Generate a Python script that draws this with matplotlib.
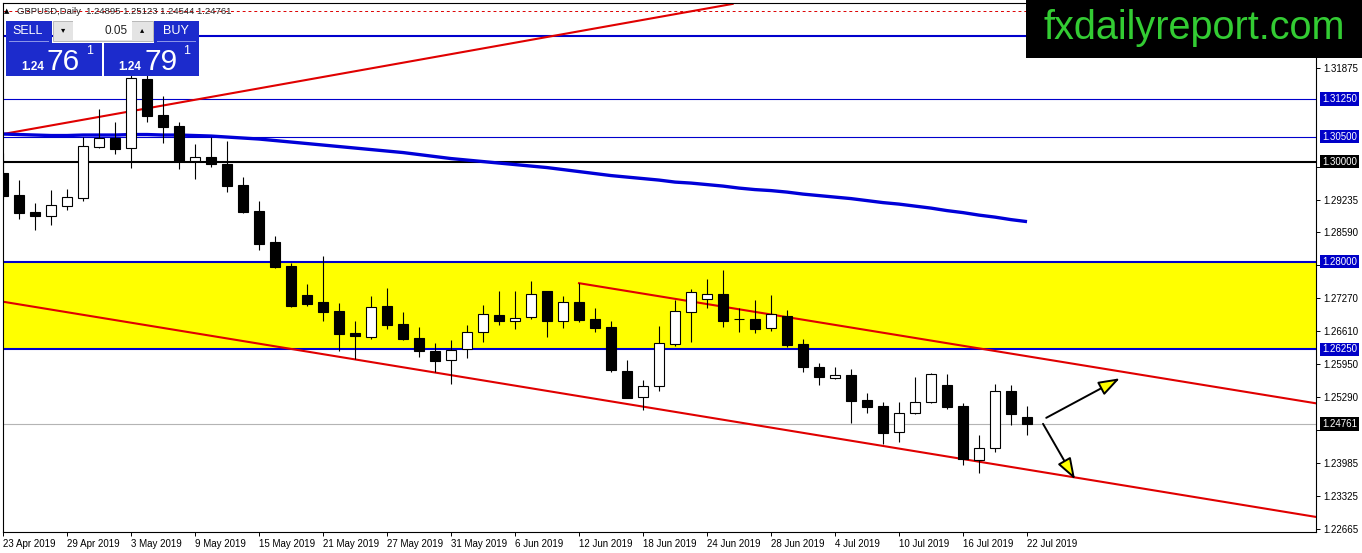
import matplotlib
matplotlib.use('Agg')
import matplotlib.pyplot as plt
from matplotlib.patches import Rectangle
import numpy as np

plt.rcParams['font.family'] = ['Liberation Sans', 'DejaVu Sans']

# GBPUSD daily candles, 23 Apr 2019 .. 22 Jul 2019 (bar index 0..64)
opens = [1.2977, 1.2933, 1.2899, 1.2891, 1.2911, 1.2927, 1.3029, 1.3047, 1.3027, 1.3165,
         1.3093, 1.3071, 1.3001, 1.3009, 1.2995, 1.2953, 1.2901, 1.2839, 1.2791, 1.2733,
         1.2719, 1.2702, 1.2658, 1.2650, 1.2711, 1.2675, 1.2648, 1.2622, 1.2603, 1.2626,
         1.2659, 1.2693, 1.2681, 1.2689, 1.2741, 1.2681, 1.2719, 1.2685, 1.2669, 1.2582,
         1.2529, 1.2551, 1.2636, 1.2699, 1.2725, 1.2735, 1.2685, 1.2685, 1.2667, 1.2692,
         1.2635, 1.2589, 1.2567, 1.2574, 1.2523, 1.2511, 1.2459, 1.2497, 1.2519, 1.2554,
         1.2512, 1.2404, 1.2427, 1.2541, 1.24895]
highs = [1.3017, 1.2963, 1.2917, 1.2943, 1.2945, 1.3049, 1.3105, 1.3079, 1.3180, 1.3185,
         1.3131, 1.3079, 1.3035, 1.3049, 1.3041, 1.2969, 1.2921, 1.2851, 1.2798, 1.2755,
         1.2812, 1.2717, 1.2681, 1.2731, 1.2747, 1.2699, 1.2669, 1.2637, 1.2644, 1.2673,
         1.2713, 1.2741, 1.2741, 1.2761, 1.2742, 1.2731, 1.2757, 1.2708, 1.2681, 1.2604,
         1.2564, 1.2672, 1.2723, 1.2745, 1.2765, 1.2783, 1.2707, 1.2723, 1.2733, 1.2703,
         1.2645, 1.2597, 1.2589, 1.2585, 1.2537, 1.2520, 1.2520, 1.2569, 1.2578, 1.2576,
         1.2517, 1.2453, 1.2556, 1.2554, 1.25123]
lows = [1.2925, 1.2885, 1.2863, 1.2873, 1.2903, 1.2921, 1.3028, 1.3015, 1.2987, 1.3079,
        1.3037, 1.2985, 1.2965, 1.2989, 1.2939, 1.2898, 1.2823, 1.2787, 1.2710, 1.2712,
        1.2682, 1.2622, 1.2605, 1.2645, 1.2665, 1.2644, 1.2609, 1.2579, 1.2556, 1.2608,
        1.2640, 1.2673, 1.2666, 1.2686, 1.2650, 1.2668, 1.2679, 1.2660, 1.2579, 1.2527,
        1.2504, 1.2542, 1.2632, 1.2640, 1.2707, 1.2670, 1.2660, 1.2658, 1.2661, 1.2630,
        1.2580, 1.2554, 1.2565, 1.2478, 1.2497, 1.2436, 1.2440, 1.2495, 1.2517, 1.2506,
        1.2393, 1.2378, 1.2420, 1.2474, 1.24544]
closes = [1.2931, 1.2897, 1.2891, 1.2913, 1.2929, 1.3031, 1.3047, 1.3025, 1.3167, 1.3091,
          1.3069, 1.3001, 1.3009, 1.2995, 1.2951, 1.2899, 1.2835, 1.2789, 1.2712, 1.2715,
          1.2700, 1.2656, 1.2652, 1.2709, 1.2674, 1.2646, 1.2621, 1.2602, 1.2624, 1.2660,
          1.2695, 1.2681, 1.2688, 1.2735, 1.2681, 1.2719, 1.2684, 1.2668, 1.2584, 1.2528,
          1.2551, 1.2637, 1.2701, 1.2739, 1.2735, 1.2682, 1.2685, 1.2666, 1.2695, 1.2634,
          1.2589, 1.2569, 1.2573, 1.2521, 1.2510, 1.2458, 1.2497, 1.2520, 1.2576, 1.2510,
          1.2405, 1.2427, 1.2541, 1.2496, 1.24761]

# moving average (thick blue line)
ma = [1.3055, 1.3054, 1.3053, 1.3052, 1.3052, 1.3053, 1.3053, 1.3053, 1.3054, 1.3054,
      1.3053, 1.3053, 1.3052, 1.3051, 1.3049, 1.3047, 1.3045, 1.3042, 1.3039, 1.3036,
      1.3033, 1.3030, 1.3027, 1.3024, 1.3021, 1.3018, 1.3014, 1.3010, 1.3006, 1.3003,
      1.3000, 1.2997, 1.2994, 1.2991, 1.2988, 1.2984, 1.2980, 1.2976, 1.2972, 1.2969,
      1.2966, 1.2963, 1.2959, 1.2957, 1.2954, 1.2951, 1.2947, 1.2944, 1.2942, 1.2939,
      1.2935, 1.2932, 1.2929, 1.2926, 1.2922, 1.2918, 1.2915, 1.2911, 1.2907, 1.2902,
      1.2898, 1.2893, 1.2889, 1.2884, 1.2880]

date_pos = [0, 4, 8, 12, 16, 20, 24, 28, 32, 36, 40, 44, 48, 52, 56, 60, 64]
date_labels = ['23 Apr 2019', '29 Apr 2019', '3 May 2019', '9 May 2019', '15 May 2019',
               '21 May 2019', '27 May 2019', '31 May 2019', '6 Jun 2019', '12 Jun 2019',
               '18 Jun 2019', '24 Jun 2019', '28 Jun 2019', '4 Jul 2019', '10 Jul 2019',
               '16 Jul 2019', '22 Jul 2019']

price_ticks = [1.31875, 1.29235, 1.28590, 1.27270, 1.26610,
               1.25950, 1.25290, 1.23985, 1.23325, 1.22665]
hidden_ticks = [1.29895, 1.27930, 1.24645]   # covered by the boxed labels

blue_levels = [1.3250, 1.3125, 1.3050, 1.2800, 1.2625]
blue_widths = [1.5, 0.8, 0.8, 1.5, 1.5]
round_level = 1.3000
last_price = 1.24761
zone = (1.2625, 1.2800)
dashed_level = 1.3301

# trend lines: (bar, price) pairs
rising_line = [(0, 1.3055), (45.6, 1.3315)]
channel_low = [(0, 1.2720), (82.06, 1.2290)]
channel_high = [(36, 1.2757), (82.06, 1.2517)]
arrows = [((65.2, 1.2488), (69.8, 1.2567)),
          ((65.0, 1.2476), (67.0, 1.2365))]

W, H = 1362, 553
fig = plt.figure(figsize=(W / 100, H / 100), dpi=100)
fig.patch.set_facecolor('white')
ax = fig.add_axes([2.7 / W, (H - 532.3) / H, 1313.3 / W, 529.6 / H])
ax.set_xlim(-0.02, 82.06)
ax.set_ylim(1.22593, 1.33174)

ax.axhspan(zone[0], zone[1], color='#ffff00', zorder=0, lw=0)
for lv, lw in zip(blue_levels, blue_widths):
    ax.axhline(lv, color='#0000cc', lw=lw, zorder=1)
ax.axhline(round_level, color='black', lw=1.5, zorder=1)
ax.axhline(last_price, color='#b4b4b4', lw=0.8, zorder=1)
ax.axhline(dashed_level, color='#dd0000', lw=0.7, ls=(0, (3, 3)), zorder=1)

for line in (rising_line, channel_low, channel_high):
    xs, ys = zip(*line)
    ax.plot(xs, ys, color='#e00000', lw=1.5, zorder=2)

ax.plot(range(len(ma)), ma, color='#0000d8', lw=2.4, zorder=2, solid_capstyle='butt')

# candles
x = np.arange(len(opens))
o = np.array(opens); c = np.array(closes)
ax.vlines(x, lows, highs, color='black', lw=0.8, zorder=3)
up = c > o
down = c < o
ax.bar(x[up], (c - o)[up], bottom=o[up], width=0.63, facecolor='white',
       edgecolor='black', lw=0.8, zorder=4)
ax.bar(x[down], (o - c)[down], bottom=c[down], width=0.63, facecolor='black',
       edgecolor='black', lw=0.8, zorder=4)
for i in x[c == o]:
    ax.hlines(o[i], i - 0.31, i + 0.31, color='black', lw=0.8, zorder=4)

for start, end in arrows:
    ax.annotate('', xy=end, xytext=start, zorder=5,
                arrowprops=dict(arrowstyle='-|>,head_length=1.3,head_width=0.45',
                                mutation_scale=10, fc='#ffff00', ec='black', lw=1.4,
                                shrinkA=0, shrinkB=0))

for s in ax.spines.values():
    s.set_linewidth(0.8)
    s.set_color('black')

ax.set_xticks(date_pos)
ax.set_xticklabels(date_labels, ha='left')
ax.tick_params(axis='x', length=3, width=0.7, pad=1.5, labelsize=7)
all_ticks = price_ticks + hidden_ticks
ax.set_yticks(all_ticks)
ax.set_yticklabels(['%.5f' % t for t in price_ticks] + [''] * len(hidden_ticks))
ax.tick_params(axis='y', left=False, labelleft=False, right=True, labelright=True,
               length=3, width=0.7, pad=2.5, labelsize=7)

# boxed price labels on the right scale
box_specs = [(lv, '#0000c8') for lv in blue_levels[1:]] + [(round_level, 'black'), (last_price, 'black')]
for lv, col in box_specs:
    ax.text(1.0047, lv, '%.5f' % lv, transform=ax.get_yaxis_transform(), ha='left',
            va='center', fontsize=7, color='white', zorder=10, clip_on=False,
            bbox=dict(boxstyle='square,pad=0.18', fc=col, ec='none'))


def px_rect(x0, y0, x1, y1, **kw):
    fig.add_artist(Rectangle((x0 / W, 1 - y1 / H), (x1 - x0) / W, (y1 - y0) / H,
                             transform=fig.transFigure, **kw))


def px_text(xp, yp, s, **kw):
    fig.text(xp / W, 1 - yp / H, s, **kw)


# header
px_text(4, 11, '\u25b2', fontsize=5, va='center', ha='left', family=['DejaVu Sans'])
px_text(17, 11, 'GBPUSD,Daily  1.24895 1.25123 1.24544 1.24761', fontsize=6.8,
        va='center', ha='left', color='#202020')

# logo
px_rect(1026, 0, 1362, 58, facecolor='black', edgecolor='none')
px_text(1194, 28, 'fxdailyreport.com', fontsize=28.5, color='#33cc33', ha='center', va='center')

# one-click trading panel
blue = '#1c2bcc'
px_rect(6, 20.7, 52, 42.7, facecolor=blue, edgecolor='none')
px_rect(154, 20.7, 199, 42.7, facecolor=blue, edgecolor='none')
px_rect(6, 42.7, 102, 76, facecolor=blue, edgecolor='none')
px_rect(104, 42.7, 199, 76, facecolor=blue, edgecolor='none')
px_rect(9, 41.3, 49, 42, facecolor='#8a94e8', edgecolor='none')
px_rect(157, 41.3, 196, 42, facecolor='#8a94e8', edgecolor='none')
px_rect(53, 20.7, 153, 41, facecolor='#e4e4e4', edgecolor='#b8b8b8', lw=0.7)
px_rect(73, 21.5, 132, 40.2, facecolor='white', edgecolor='none')
px_text(63, 30, '\u25be', fontsize=6, ha='center', va='center', family=['DejaVu Sans'])
px_text(142, 30, '\u25b4', fontsize=6, ha='center', va='center', family=['DejaVu Sans'])
px_text(128, 30.5, '0.05', fontsize=8.5, ha='right', va='center', color='#222222')
px_text(28, 31.5, 'SELL', fontsize=9, ha='center', va='center', color='white')
px_text(176, 31.5, 'BUY', fontsize=9, ha='center', va='center', color='white')
for x0, big in ((21, '76'), (118, '79')):
    px_text(x0, 70, '1.24', fontsize=8.5, weight='bold', ha='left', va='baseline', color='white')
    px_text(x0 + 26, 70, big, fontsize=21.5, ha='left', va='baseline', color='white')
    px_text(x0 + 65, 51, '1', fontsize=9, ha='left', va='center', color='white')

fig.savefig('out.png', dpi=100)
